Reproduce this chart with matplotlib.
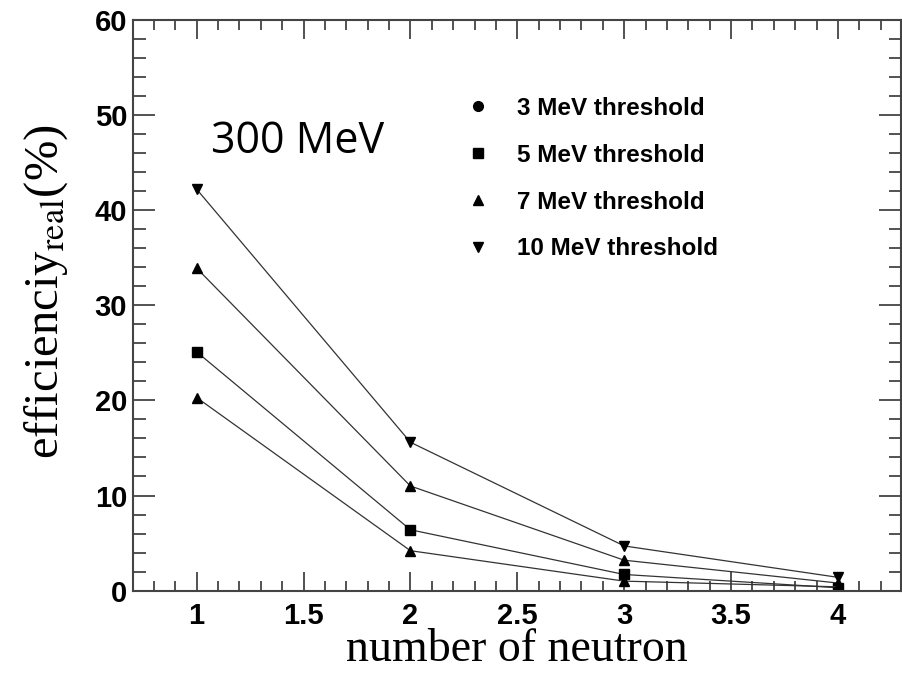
import matplotlib
matplotlib.use("Agg")
import matplotlib.pyplot as plt
from matplotlib.lines import Line2D
from matplotlib.ticker import MultipleLocator

# data
n_neutron = [1, 2, 3, 4]
eff_down_tri = [42.2, 15.6, 4.7, 1.4]
eff_up_tri = [33.9, 11.0, 3.2, 0.8]
eff_square = [25.1, 6.4, 1.7, 0.3]
eff_up_tri_low = [20.3, 4.2, 1.0, 0.4]

legend_labels = ["3 MeV threshold", "5 MeV threshold",
                 "7 MeV threshold", "10 MeV threshold"]
legend_markers = ["o", "s", "^", "v"]

plt.rcParams["mathtext.fontset"] = "stix"

fig = plt.figure(figsize=(9.03, 6.86), dpi=100)
ax = fig.add_axes([0.147, 0.139, 0.851, 0.832])

line_kw = dict(color="#333333", lw=0.9, markerfacecolor="black",
               markeredgecolor="black")
ax.plot(n_neutron, eff_down_tri, marker="v", ms=7, **line_kw)
ax.plot(n_neutron, eff_up_tri, marker="^", ms=7, **line_kw)
ax.plot(n_neutron, eff_square, marker="s", ms=6.5, **line_kw)
ax.plot(n_neutron, eff_up_tri_low, marker="^", ms=7, **line_kw)

ax.set_xlim(0.701, 4.296)
ax.set_ylim(0, 60)
ax.xaxis.set_major_locator(MultipleLocator(0.5))
ax.xaxis.set_minor_locator(MultipleLocator(0.1))
ax.yaxis.set_major_locator(MultipleLocator(10))
ax.yaxis.set_minor_locator(MultipleLocator(2))

for s in ax.spines.values():
    s.set_color("#444444")
    s.set_linewidth(1.5)
ax.tick_params(which="both", direction="in", top=True, right=True,
               color="#444444", width=1.3)
ax.tick_params(axis="x", which="major", length=14, pad=8)
ax.tick_params(axis="x", which="minor", length=7)
ax.tick_params(axis="y", which="major", length=16, pad=4)
ax.tick_params(axis="y", which="minor", length=9)

ax.set_xticks([1, 1.5, 2, 2.5, 3, 3.5, 4])
ax.set_xticklabels(["1", "1.5", "2", "2.5", "3", "3.5", "4"])
for lab in ax.get_xticklabels() + ax.get_yticklabels():
    lab.set_fontfamily("Liberation Sans")
    lab.set_fontweight("bold")
    lab.set_fontsize(21)

ax.set_xlabel("number of neutron", fontfamily="Liberation Serif",
              fontsize=33, labelpad=-1)
ax.set_ylabel(r"efficienciy$_{\mathrm{real}}$(%)", fontfamily="Liberation Serif",
              fontsize=35)
ax.yaxis.set_label_coords(-0.082, 0.523)

ax.text(211, 686 - 153, "300 MeV", transform=None, fontfamily="Open Sans",
        fontsize=31, va="baseline", ha="left")

handles = [Line2D([], [], ls="none", marker=m, color="black",
                  ms=7 if m != "s" else 6.5) for m in legend_markers]
leg = ax.legend(handles, legend_labels, loc="upper left",
                bbox_to_anchor=(466 / 903, 1 - 97 / 686),
                bbox_transform=fig.transFigure, frameon=False,
                handlelength=1.0, handletextpad=1.1, labelspacing=0.98,
                borderpad=0, borderaxespad=0,
                prop={"family": "Liberation Sans", "weight": "bold", "size": 17.5})

fig.savefig("out.png", dpi=100)
